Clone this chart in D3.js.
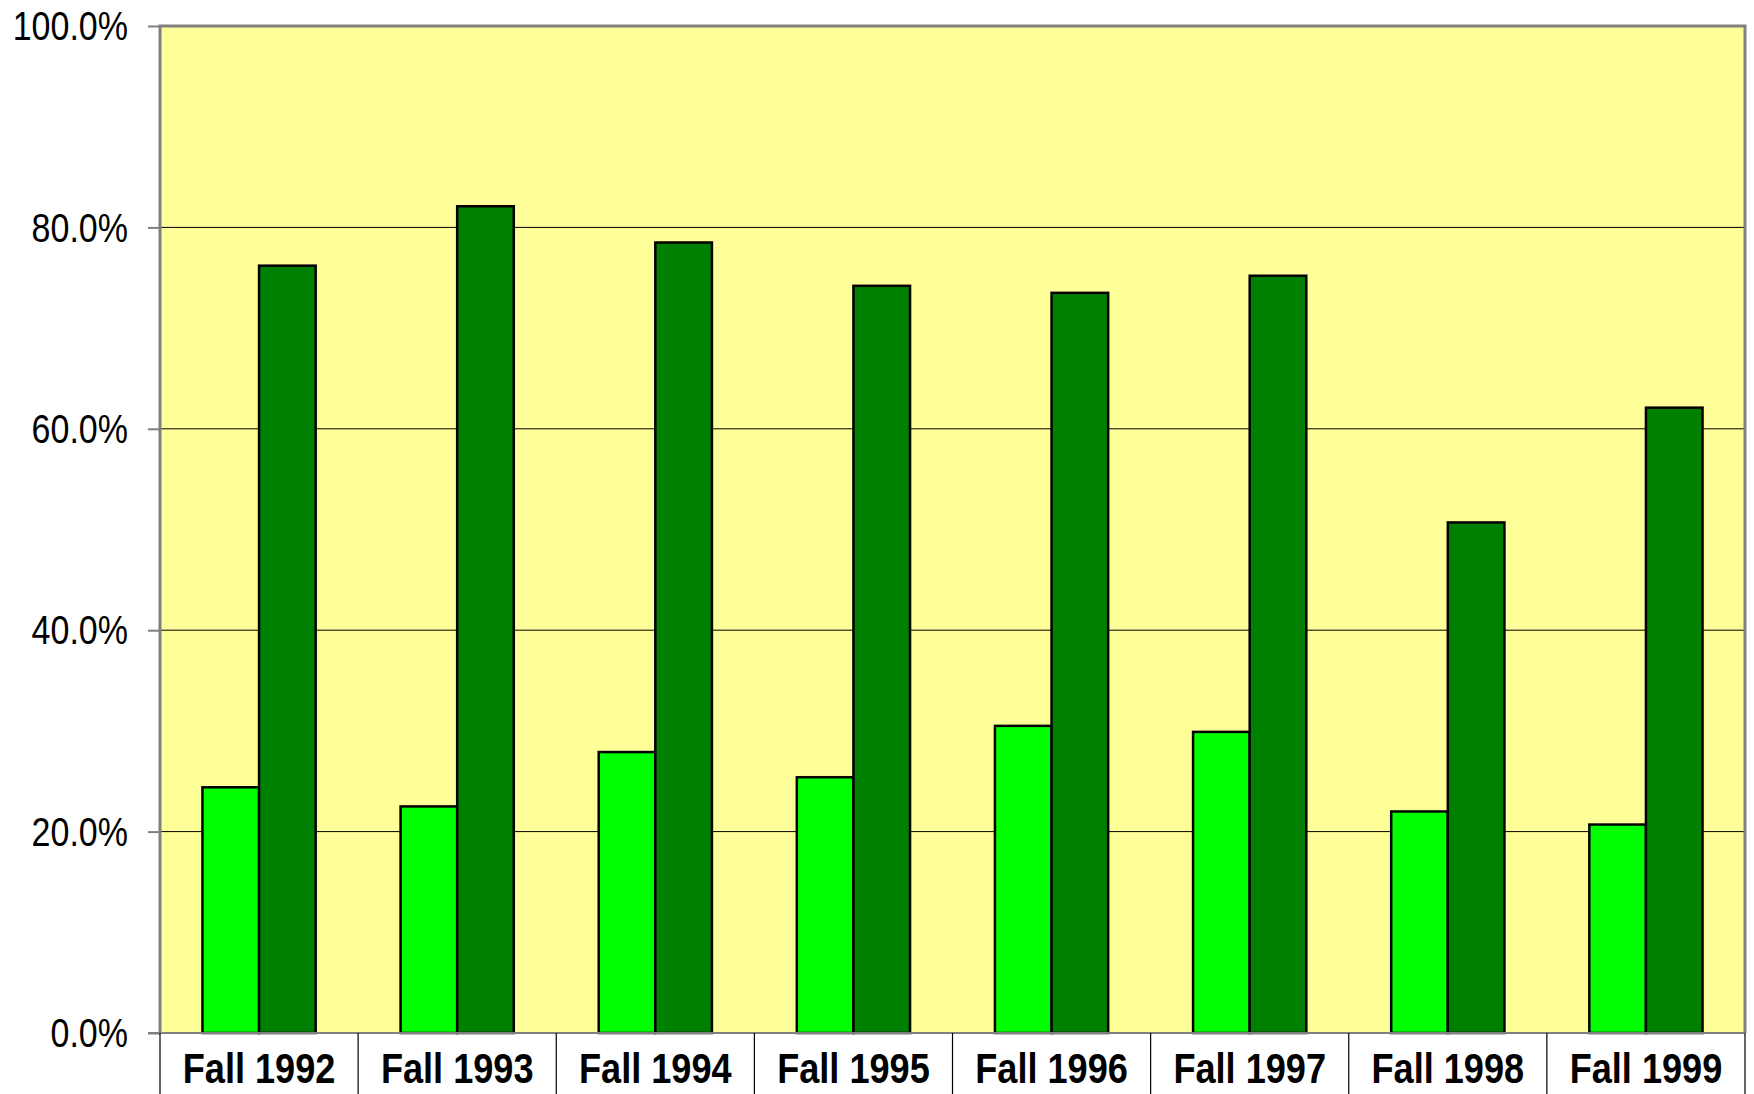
<!DOCTYPE html>
<html>
<head>
<meta charset="utf-8">
<script src="https://cdn.jsdelivr.net/npm/d3@7"></script>
<style>
  html, body { margin: 0; padding: 0; background: #fff; }
  svg { display: block; }
</style>
</head>
<body>
<div id="chart"></div>
<script>
// values
const terms = ["Fall 1992", "Fall 1993", "Fall 1994", "Fall 1995", "Fall 1996", "Fall 1997", "Fall 1998", "Fall 1999"];
const seriesNames = ["light", "dark"];
const lightVals = [0.244, 0.225, 0.279, 0.254, 0.305, 0.299, 0.220, 0.207];
const darkVals = [0.762, 0.821, 0.785, 0.742, 0.735, 0.752, 0.507, 0.621];
const yTicks = [0, 0.2, 0.4, 0.6, 0.8, 1.0];
const barColors = { light: "#00ff00", dark: "#008000" };

class GroupedBars {
  constructor(config) {
    this.config = config;
    this.svg = null;
    this.margins = null;
    this.x0 = null;
    this.x1 = null;
    this.yScale = null;
    this.rows = [];
    this.createSvg();
    this.createMargins();
  }

  createSvg() {
    this.svg = d3.select(this.config.div)
      .append("svg")
      .attr("width", 1754)
      .attr("height", 1094);
  }

  createMargins() {
    this.margins = this.svg.append("g")
      .attr("transform", `translate(${this.config.left},${this.config.top})`);
  }

  loadData() {
    this.rows = terms.map((t, i) => ({ cat: t, light: lightVals[i], dark: darkVals[i] }));
  }

  createScales() {
    this.x0 = d3.scaleBand().domain(terms).range([0, this.config.width]).padding(0);
    this.x1 = d3.scaleBand().domain(seriesNames).range([0, this.x0.bandwidth()])
      .paddingInner(0).paddingOuter(0.75);
    this.yScale = d3.scaleLinear().domain([0, 1]).range([this.config.height, 0]);
  }

  squeeze(sel, f) {
    sel.each(function () {
      const len = this.getComputedTextLength();
      d3.select(this).attr("textLength", len * f).attr("lengthAdjust", "spacingAndGlyphs");
    });
  }

  createBackground() {
    const h = this.config.height, w = this.config.width;
    this.margins.append("rect")
      .attr("width", w).attr("height", h)
      .style("fill", "#ffff99");

    // gridlines
    this.margins.append("g")
      .selectAll("line")
      .data(yTicks.filter(d => d > 0 && d < 1))
      .join("line")
      .attr("x1", 0).attr("x2", w)
      .attr("y1", d => this.yScale(d)).attr("y2", d => this.yScale(d))
      .style("stroke", "#000").style("stroke-width", 1);
  }

  createAxis() {
    const h = this.config.height, w = this.config.width;

    let yAxis = d3.axisLeft(this.yScale)
      .tickValues(yTicks)
      .tickSize(12)
      .tickPadding(20)
      .tickFormat(d3.format(".1%"));

    let yg = this.margins.append("g").call(yAxis);
    yg.select(".domain").remove();
    yg.selectAll(".tick line").style("stroke", "#808080").style("stroke-width", 2);
    yg.selectAll("text")
      .style("font-family", "'Liberation Sans', Arial, sans-serif")
      .style("font-size", "40px")
      .style("fill", "#000")
      .attr("dy", "0.34em");
    this.squeeze(yg.selectAll("text"), 0.85);

    // category labels
    let xAxis = d3.axisBottom(this.x0).tickSize(0).tickPadding(20);
    let xg = this.margins.append("g")
      .attr("transform", `translate(0,${h})`)
      .call(xAxis);
    xg.select(".domain").remove();
    xg.selectAll("text")
      .style("font-family", "'Liberation Sans', Arial, sans-serif")
      .style("font-size", "42px")
      .style("font-weight", "bold")
      .style("fill", "#000");
    this.squeeze(xg.selectAll("text"), 0.86);

    // separators between categories
    const edges = terms.map(t => this.x0(t)).concat([this.x0.range()[1]]);
    this.margins.append("g")
      .selectAll("line")
      .data(edges)
      .join("line")
      .attr("x1", d => d).attr("x2", d => d)
      .attr("y1", h).attr("y2", h + 80)
      .style("stroke", "#000").style("stroke-width", 1.2);
  }

  render() {
    const h = this.config.height;
    this.margins.append("g")
      .selectAll("g")
      .data(this.rows)
      .join("g")
      .attr("transform", d => `translate(${this.x0(d.cat)},0)`)
      .selectAll("rect")
      .data(d => seriesNames.map(k => ({ key: k, val: d[k] })))
      .join("rect")
      .attr("x", d => this.x1(d.key))
      .attr("y", d => this.yScale(d.val))
      .attr("width", this.x1.bandwidth())
      .attr("height", d => this.yScale(0) - this.yScale(d.val))
      .style("fill", d => barColors[d.key])
      .style("stroke", "#000")
      .style("stroke-width", 2.5);

    // plot frame
    const w = this.config.width;
    this.margins.append("path")
      .attr("d", `M0,${h}V0H${w}V${h}`)
      .style("fill", "none")
      .style("stroke", "#808080")
      .style("stroke-width", 3);
    this.margins.append("line")
      .attr("x1", -12).attr("x2", w)
      .attr("y1", h).attr("y2", h)
      .style("stroke", "#808080").style("stroke-width", 2);
  }
}

function main() {
  let c = { div: "#chart", width: 1585, height: 1007, top: 26, left: 160 };
  let app = new GroupedBars(c);
  app.loadData();
  app.createScales();
  app.createBackground();
  app.render();
  app.createAxis();
}

main();
</script>
</body>
</html>
